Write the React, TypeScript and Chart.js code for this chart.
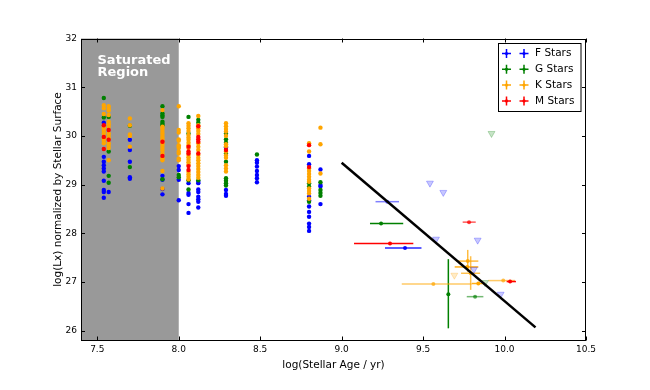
import React, { useEffect, useRef } from "react";
import { Chart, registerables } from "chart.js";

Chart.register(...registerables);

// ---------------- data ----------------
const xRange = [7.4, 10.5];
const yRange = [25.8, 32];
const xTicks = [7.5, 8.0, 8.5, 9.0, 9.5, 10.0, 10.5];
const yTicks = [26, 27, 28, 29, 30, 31, 32];
const saturatedEnd = 8.0;

const clusterAges = [7.54, 7.57, 7.7, 7.9, 8.0, 8.06, 8.12, 8.29, 8.48, 8.8, 8.87];

const fClusterLx = [
  [30.27, 29.57, 29.47, 29.4, 29.33, 29.27, 29.08, 28.89, 28.85, 28.73],
  [28.85],
  [29.92, 29.71, 29.47, 29.15, 29.12],
  [29.18, 29.1, 28.91, 28.8],
  [29.38, 29.3, 29.1, 28.68],
  [29.03, 28.83, 28.79, 28.6, 28.42],
  [29.06, 29.03, 28.9, 28.85, 28.75, 28.7, 28.65, 28.53],
  [29.76, 28.89, 28.81, 28.77],
  [29.5, 29.45, 29.37, 29.28, 29.2, 29.13, 29.05],
  [29.59, 29.42, 28.75, 28.68, 28.55, 28.44, 28.34, 28.2, 28.13, 28.05],
  [29.31, 28.99, 28.96, 28.6],
];

const gClusterLx = [
  [30.78, 30.38],
  [30.39, 29.68, 29.18, 29.04],
  [30.21, 29.36],
  [30.61, 30.46, 30.42, 30.39, 30.29, 30.25, 30.22, 29.11],
  [29.2, 29.15],
  [30.39, 30.05, 29.09, 28.9],
  [30.33, 30.27, 29.09],
  [30.05, 29.93, 29.86, 29.64, 29.47, 29.13, 29.08, 29.03, 28.98],
  [29.62],
  [29.03, 28.96, 28.65],
  [29.05, 28.89, 28.83, 28.77],
];

const kClusterLx = [
  [30.63, 30.57, 30.45, 30.19, 30.15, 30.1, 30.05, 29.95, 29.9, 29.85],
  [30.61, 30.56, 30.52, 30.43, 30.29, 30.24, 30.19, 30.05, 30.0, 29.95, 29.85, 29.8, 29.75, 29.5],
  [30.36, 30.22, 30.03, 30.0, 29.78],
  [30.53, 30.19, 30.15, 30.1, 30.05, 30.0, 29.96, 29.92, 29.85, 29.8, 29.75, 29.7, 29.64, 29.54, 29.5, 29.28, 28.92],
  [30.61, 30.12, 30.07, 29.93, 29.9, 29.81, 29.78, 29.75, 29.68, 29.64, 29.54, 29.5],
  [30.26, 30.21, 30.16, 30.1, 30.02, 29.97, 29.92, 29.86, 29.81, 29.75, 29.61, 29.56, 29.51, 29.46, 29.41, 29.26, 29.21, 29.16, 29.11],
  [30.41, 30.22, 30.16, 30.1, 30.04, 29.85, 29.78, 29.71, 29.61, 29.55, 29.5, 29.44, 29.38, 29.32, 29.26, 29.2, 29.14],
  [30.26, 30.2, 30.14, 30.09, 30.0, 29.83, 29.79, 29.68, 29.6, 29.55, 29.4, 29.33, 29.27],
  [],
  [29.85, 29.68, 29.33, 29.28, 29.22, 29.16, 29.1, 29.06, 28.92, 28.87, 28.82, 28.71],
  [30.17, 29.83, 29.23],
];

const mClusterLx = [
  [30.22, 29.98, 29.73],
  [30.12, 29.92],
  [],
  [29.88, 29.59],
  [],
  [29.78, 29.68, 29.64, 29.38, 29.3],
  [30.2, 29.98, 29.93, 29.88, 29.64],
  [29.71],
  [],
  [29.81, 29.36],
  [],
];

// individual field stars with error bars: age, lx, [minus, plus] errors
const fDetAge = [9.28, 9.389];
const fDetLx = [28.65, 27.7];
const fDetAgeErr = [[0.072, 0.072], [0.123, 0.101]];
const fDetLxErr = [[0, 0], [0, 0]];
const fDetAlpha = [0.5, 0.85];

const gDetAge = [9.242, 9.655, 9.819];
const gDetLx = [28.2, 26.75, 26.7];
const gDetAgeErr = [[0.068, 0.136], [0, 0], [0.051, 0.051]];
const gDetLxErr = [[0, 0], [0.7, 0.72], [0, 0]];
const gDetAlpha = [1, 1, 0.55];

const kDetAge = [9.563, 9.774, 9.771, 9.792, 9.839, 9.992];
const kDetLx = [26.96, 27.43, 27.31, 27.18, 26.97, 27.03];
const kDetAgeErr = [[0.194, 0.235], [0.072, 0.065], [0.077, 0.068], [0.059, 0.058], [0.04, 0.04], [0.092, 0.072]];
const kDetLxErr = [[0, 0], [0.22, 0.23], [0, 0], [0.34, 0.35], [0, 0], [0, 0]];
const kDetAlpha = [0.6, 0.75, 0.9, 0.7, 0.9, 0.6];

const mDetAge = [9.297, 9.782, 10.034];
const mDetLx = [27.79, 28.23, 27.01];
const mDetAgeErr = [[0.221, 0.143], [0.039, 0.041], [0.021, 0.036]];
const mDetLxErr = [[0, 0], [0, 0], [0, 0]];
const mDetAlpha = [1, 0.65, 1];

// upper limits
const fLimAge = [9.542, 9.624, 9.579, 9.835, 9.812, 9.976];
const fLimLx = [29.03, 28.84, 27.88, 27.86, 27.26, 26.75];
const gLimAge = [9.92, 9.88];
const gLimLx = [30.05, 26.99];
const kLimAge = [9.692];
const kLimLx = [27.14];

// saturation-decay trend
const trendAge = [9.0, 10.19];
const trendLx = [29.45, 26.07];

const legendLabels = ["F Stars", "G Stars", "K Stars", "M Stars"];

// ---------------- styling ----------------
const FONT = "'DejaVu Sans', 'Liberation Sans', sans-serif";
const RGB: Record<string, number[]> = {
  F: [0, 0, 255],
  G: [0, 128, 0],
  K: [255, 165, 0],
  M: [255, 0, 0],
};
const rgba = (c: number[], a: number) => `rgba(${c[0]},${c[1]},${c[2]},${a})`;

const clusterPoints = (lx: number[][]) =>
  clusterAges.flatMap((age, i) => lx[i].map((v) => ({ x: age, y: v })));
const pairPoints = (xs: number[], ys: number[]) => xs.map((x, i) => ({ x, y: ys[i] }));

const detections = [
  { key: "F", age: fDetAge, lx: fDetLx, ageErr: fDetAgeErr, lxErr: fDetLxErr, alpha: fDetAlpha },
  { key: "G", age: gDetAge, lx: gDetLx, ageErr: gDetAgeErr, lxErr: gDetLxErr, alpha: gDetAlpha },
  { key: "K", age: kDetAge, lx: kDetLx, ageErr: kDetAgeErr, lxErr: kDetLxErr, alpha: kDetAlpha },
  { key: "M", age: mDetAge, lx: mDetLx, ageErr: mDetAgeErr, lxErr: mDetLxErr, alpha: mDetAlpha },
];

const decorPlugin = {
  id: "decor",
  beforeDatasetsDraw(chart: any) {
    const { ctx, chartArea: ca, scales } = chart;
    const xs = scales.x;
    const ys = scales.y;
    ctx.save();
    // saturated region
    const x0 = xs.getPixelForValue(xRange[0]);
    const x1 = xs.getPixelForValue(saturatedEnd);
    ctx.fillStyle = "#999999";
    ctx.fillRect(x0, ca.top, x1 - x0, ca.bottom - ca.top);
    ctx.fillStyle = "#ffffff";
    ctx.font = `bold 13px ${FONT}`;
    ctx.textAlign = "left";
    ctx.textBaseline = "alphabetic";
    ctx.fillText("Saturated", x0 + 16.5, ca.top + 25.5);
    ctx.fillText("Region", x0 + 16.5, ca.top + 37.5);
    // error bars
    ctx.lineWidth = 1.5;
    detections.forEach((d) => {
      d.age.forEach((a, i) => {
        ctx.strokeStyle = rgba(RGB[d.key], d.alpha[i]);
        const px = xs.getPixelForValue(a);
        const py = ys.getPixelForValue(d.lx[i]);
        const [axm, axp] = d.ageErr[i];
        const [aym, ayp] = d.lxErr[i];
        if (axm > 0 || axp > 0) {
          ctx.beginPath();
          ctx.moveTo(xs.getPixelForValue(a - axm), py);
          ctx.lineTo(xs.getPixelForValue(a + axp), py);
          ctx.stroke();
        }
        if (aym > 0 || ayp > 0) {
          ctx.beginPath();
          ctx.moveTo(px, ys.getPixelForValue(d.lx[i] - aym));
          ctx.lineTo(px, ys.getPixelForValue(d.lx[i] + ayp));
          ctx.stroke();
        }
      });
    });
    ctx.restore();
  },
  afterDatasetsDraw(chart: any) {
    const { ctx, chartArea: ca, scales } = chart;
    const xs = scales.x;
    const ys = scales.y;
    ctx.save();
    // frame
    ctx.strokeStyle = "#000";
    ctx.lineWidth = 1;
    ctx.strokeRect(Math.round(ca.left) + 0.5, Math.round(ca.top) + 0.5, Math.round(ca.right - ca.left) - 1, Math.round(ca.bottom - ca.top) - 1);
    // inward ticks
    const tl = 4;
    ctx.beginPath();
    xTicks.forEach((t) => {
      const p = Math.round(xs.getPixelForValue(t)) + 0.5;
      ctx.moveTo(p, ca.bottom);
      ctx.lineTo(p, ca.bottom - tl);
      ctx.moveTo(p, ca.top);
      ctx.lineTo(p, ca.top + tl);
    });
    yTicks.forEach((t) => {
      const p = Math.round(ys.getPixelForValue(t)) + 0.5;
      ctx.moveTo(ca.left, p);
      ctx.lineTo(ca.left + tl, p);
      ctx.moveTo(ca.right, p);
      ctx.lineTo(ca.right - tl, p);
    });
    ctx.stroke();
    // legend
    const lx = 498.5, ly = 43.5, lw = 82.5, lh = 68;
    ctx.fillStyle = "#fff";
    ctx.fillRect(lx, ly, lw, lh);
    ctx.strokeStyle = "#000";
    ctx.lineWidth = 1;
    ctx.strokeRect(lx, ly, lw, lh);
    const keys = ["F", "G", "K", "M"];
    ctx.font = `10.5px ${FONT}`;
    ctx.textBaseline = "middle";
    ctx.textAlign = "left";
    keys.forEach((k, i) => {
      const cy = ly + 10 + i * 15.8;
      ctx.strokeStyle = rgba(RGB[k], 1);
      ctx.fillStyle = rgba(RGB[k], 1);
      ctx.lineWidth = 1.5;
      [506.5, 524].forEach((cx) => {
        ctx.beginPath();
        ctx.moveTo(cx - 4.5, cy);
        ctx.lineTo(cx + 4.5, cy);
        ctx.moveTo(cx, cy - 4.5);
        ctx.lineTo(cx, cy + 4.5);
        ctx.stroke();
        ctx.beginPath();
        ctx.arc(cx, cy, 1.6, 0, Math.PI * 2);
        ctx.fill();
      });
      ctx.fillStyle = "#000";
      ctx.fillText(legendLabels[i], 535, cy);
    });
    ctx.restore();
  },
};

export default function App() {
  const ref = useRef<HTMLCanvasElement | null>(null);

  useEffect(() => {
    document.body.style.margin = "0";
    const canvas = ref.current;
    if (!canvas) return;

    const clusterSets = [
      { key: "M", lx: mClusterLx, order: 4 },
      { key: "K", lx: kClusterLx, order: 5 },
      { key: "G", lx: gClusterLx, order: 6 },
      { key: "F", lx: fClusterLx, order: 7 },
    ].map((s) => ({
      label: s.key + " cluster",
      data: clusterPoints(s.lx),
      backgroundColor: rgba(RGB[s.key], 1),
      borderWidth: 0,
      pointRadius: 2.2,
      order: s.order,
    }));

    const detSets = detections.map((d, i) => ({
      label: d.key + " field",
      data: pairPoints(d.age, d.lx),
      backgroundColor: d.alpha.map((a) => rgba(RGB[d.key], Math.min(1, a + 0.1))),
      borderWidth: 0,
      pointRadius: 2,
      order: 1 + i * 0.1,
    }));

    const limSets = [
      { key: "F", age: fLimAge, lx: fLimLx },
      { key: "G", age: gLimAge, lx: gLimLx },
      { key: "K", age: kLimAge, lx: kLimLx },
    ].map((s) => ({
      label: s.key + " limit",
      data: pairPoints(s.age, s.lx),
      backgroundColor: rgba(RGB[s.key], 0.22),
      borderColor: rgba(RGB[s.key], 0.25),
      borderWidth: 1,
      pointStyle: "triangle",
      rotation: 180,
      pointRadius: 4,
      order: 3,
    }));

    const trendSet = {
      label: "trend",
      data: pairPoints(trendAge, trendLx),
      showLine: true,
      borderColor: "#000",
      borderWidth: 2.5,
      pointRadius: 0,
      order: 0,
    };

    const chart = new Chart(canvas, {
      type: "scatter",
      data: { datasets: [trendSet, ...detSets, ...limSets, ...clusterSets] as any },
      options: {
        animation: false,
        responsive: true,
        maintainAspectRatio: false,
        events: [],
        layout: { padding: { left: 40, right: 64, top: 38.5, bottom: 10 } },
        plugins: { legend: { display: false }, tooltip: { enabled: false } },
        scales: {
          x: {
            type: "linear",
            min: xRange[0],
            max: xRange[1],
            afterBuildTicks: (s: any) => {
              s.ticks = xTicks.map((v) => ({ value: v }));
            },
            afterFit: (s: any) => {
              s.height = 39.5;
            },
            grid: { display: false, drawTicks: false },
            border: { display: false },
            ticks: {
              color: "#000",
              padding: 4,
              font: { family: FONT, size: 9 },
              callback: (v: any) => Number(v).toFixed(1),
            },
            title: {
              display: true,
              text: "log(Stellar Age / yr)",
              color: "#000",
              font: { family: FONT, size: 10.5 },
              padding: { top: 0, bottom: 8 },
            },
          },
          y: {
            type: "linear",
            min: yRange[0],
            max: yRange[1],
            afterBuildTicks: (s: any) => {
              s.ticks = yTicks.map((v) => ({ value: v }));
            },
            afterFit: (s: any) => {
              s.width = 41;
            },
            grid: { display: false, drawTicks: false },
            border: { display: false },
            ticks: {
              color: "#000",
              padding: 4,
              font: { family: FONT, size: 9 },
              callback: (v: any) => String(v),
            },
            title: {
              display: true,
              text: "log(Lx) normalized by Stellar Surface",
              color: "#000",
              font: { family: FONT, size: 10.5 },
              padding: { top: 12, bottom: 0 },
            },
          },
        },
      },
      plugins: [decorPlugin],
    } as any);

    return () => chart.destroy();
  }, []);

  return (
    <div style={{ position: "relative", width: 650, height: 390 }}>
      <canvas ref={ref} />
    </div>
  );
}
